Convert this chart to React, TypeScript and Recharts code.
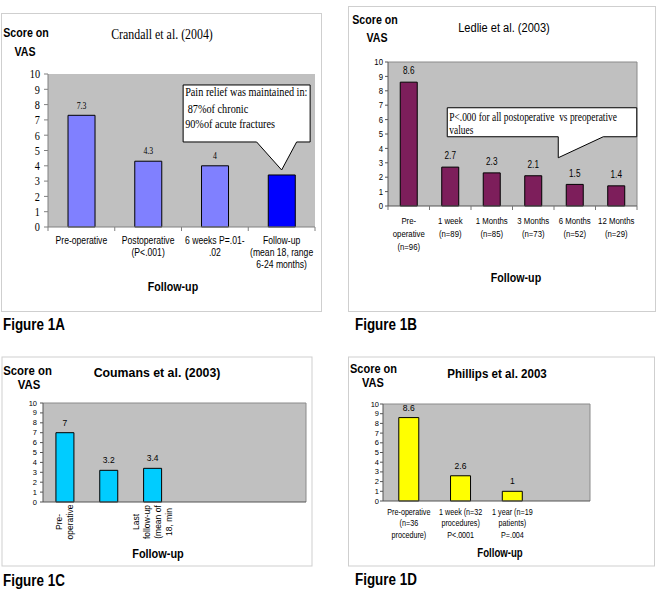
import React from 'react';
import {
  BarChart,
  Bar,
  XAxis,
  YAxis,
  CartesianGrid,
  LabelList,
  Cell,
  ReferenceDot,
  ReferenceLine,
} from 'recharts';

const SANS = '"Liberation Sans", Arial, Helvetica, sans-serif';
const SERIF = '"Liberation Serif", "Times New Roman", Times, serif';

// ---------------- data ----------------
const yTicks = [0, 1, 2, 3, 4, 5, 6, 7, 8, 9, 10];

const crandallCategories = [
  'Pre-operative',
  'Postoperative\n(P<.001)',
  '6 weeks P=.01-\n.02',
  'Follow-up\n(mean 18, range\n6-24 months)',
];
const crandallScores = [7.3, 4.3, 4, 3.4];
const crandallNote = ['Pain relief was maintained in:', ' 87%of chronic', '90%of acute fractures'];

const ledlieCategories = [
  'Pre-\noperative\n(n=96)',
  '1 week\n(n=89)',
  '1 Months\n(n=85)',
  '3 Months\n(n=73)',
  '6 Months\n(n=52)',
  '12 Months\n(n=29)',
];
const ledlieScores = [8.6, 2.7, 2.3, 2.1, 1.5, 1.4];
const ledlieNote = ['P<.000 for all postoperative  vs preoperative', 'values'];

const coumansCategories = ['Pre-\noperative', '', 'Last\nfollow-up\n(mean of\n18, min', '', '', ''];
const coumansScores: (number | null)[] = [7, 3.2, 3.4, null, null, null];

const phillipsCategories = [
  'Pre-operative\n(n=36\nprocedure)',
  '1 week (n=32\nprocedures)\nP<.0001',
  '1 year (n=19\npatients)\nP=.004',
  '',
];
const phillipsScores: (number | null)[] = [8.6, 2.6, 1, null];

// ---------------- styles ----------------
const crandallBarColors = ['#8080FF', '#8080FF', '#8080FF', '#0000FF'];
const LEDLIE_COLOR = '#7D1E5B';
const COUMANS_COLOR = '#00CCFF';
const PHILLIPS_COLOR = '#FFFF00';
const PLOT_BG = '#C0C0C0';
const BORDER = '#cfcfcf';

function buildRows(categories: string[], scores: (number | null)[]) {
  return categories.map((label, i) => ({ key: `k${i}`, label, score: scores[i] }));
}

type St = { font: string; size: number; sx: number };

function YTick(props: any) {
  const { x, y, payload, st } = props;
  return (
    <text
      transform={`translate(${x} ${y}) scale(${st.sx} 1)`}
      textAnchor="end"
      dominantBaseline="central"
      fontFamily={st.font}
      fontSize={st.size}
      fill="#000"
    >
      {payload.value}
    </text>
  );
}

function XTick(props: any) {
  const { x, y, payload, labels, st, first, lh, step, mark } = props;
  const idx = Number(String(payload.value).slice(1));
  const lines = String(labels[idx] ?? '').split('\n');
  return (
    <g>
      {lines.map((ln: string, i: number) =>
        ln ? (
          <text
            key={i}
            transform={`translate(${x} ${y + first + i * lh}) scale(${st.sx} 1)`}
            textAnchor="middle"
            dominantBaseline="central"
            fontFamily={st.font}
            fontSize={st.size}
            fill="#000"
          >
            {ln}
          </text>
        ) : null
      )}
      {mark ? <line x1={x + step / 2} x2={x + step / 2} y1={y} y2={y + 4} stroke={mark} /> : null}
      {mark && idx === 0 ? <line x1={x - step / 2} x2={x - step / 2} y1={y} y2={y + 4} stroke={mark} /> : null}
    </g>
  );
}

function RotTick(props: any) {
  const { x, y, payload, labels, st, lh, center } = props;
  const idx = Number(String(payload.value).slice(1));
  const lines = String(labels[idx] ?? '').split('\n');
  const n = lines.length;
  return (
    <g>
      {lines.map((ln: string, i: number) =>
        ln ? (
          <text
            key={i}
            transform={`translate(${x + (i - (n - 1) / 2) * lh} ${y + center}) rotate(-90)`}
            textAnchor="middle"
            dominantBaseline="central"
            fontFamily={st.font}
            fontSize={st.size}
            fill="#000"
          >
            {ln}
          </text>
        ) : null
      )}
    </g>
  );
}

function makeValueLabel(st: St, gap: number, hidden: number[] = []) {
  return (props: any) => {
    const vb = props.viewBox || props;
    const { x, y, width } = vb;
    const value = props.value;
    if (value == null || x == null) return null;
    if (hidden.includes(props.index)) return null;
    return (
      <text
        transform={`translate(${x + width / 2} ${y - gap}) scale(${st.sx} 1)`}
        textAnchor="middle"
        dominantBaseline="central"
        fontFamily={st.font}
        fontSize={st.size}
        fill="#000"
      >
        {value}
      </text>
    );
  };
}

function T(props: any) {
  const { x, y, size, bold, font = SANS, sx = 1, anchor = 'middle', children } = props;
  return (
    <text
      transform={`translate(${x} ${y}) scale(${sx} 1)`}
      textAnchor={anchor}
      dominantBaseline="central"
      fontFamily={font}
      fontSize={size}
      fontWeight={bold ? 'bold' : 'normal'}
      fill="#000"
    >
      {children}
    </text>
  );
}

// callout for Crandall, anchored on the follow-up bar top
function CalloutA(p: any) {
  const { cx, cy } = p;
  if (cx == null || cy == null) return null;
  const l = cx - 98.5, r = cx + 28.5, t = cy - 90, b = cy - 33;
  const d = `M${l},${t} H${r} V${b} H${cx + 15} L${cx},${cy - 5} L${cx - 25},${b} H${l} Z`;
  const ys = [cy - 83.3, cy - 66.7, cy - 51.7];
  return (
    <g>
      <path d={d} fill="#fff" stroke="#000" strokeWidth={1} />
      {crandallNote.map((s, i) => (
        <text
          key={i}
          transform={`translate(${l + 2} ${ys[i]}) scale(0.82 1)`}
          dominantBaseline="central"
          fontFamily={SERIF}
          fontSize={12.5}
          fill="#000"
          style={{ whiteSpace: 'pre' }}
        >
          {s}
        </text>
      ))}
    </g>
  );
}

// callout for Ledlie, anchored on the 3-month bar top
function CalloutB(p: any) {
  const { cx, cy } = p;
  if (cx == null || cy == null) return null;
  const l = cx - 86, r = cx + 103.5, t = cy - 68, b = cy - 39;
  const d = `M${l},${t} H${r} V${b} H${cx + 70} L${cx + 25},${cy - 18} L${cx + 25},${b} H${l} Z`;
  const ys = [cy - 58.5, cy - 45.5];
  return (
    <g>
      <path d={d} fill="#fff" stroke="#000" strokeWidth={1} />
      {ledlieNote.map((s, i) => (
        <text
          key={i}
          transform={`translate(${l + 2} ${ys[i]}) scale(0.82 1)`}
          dominantBaseline="central"
          fontFamily={SERIF}
          fontSize={11.5}
          fill="#000"
          style={{ whiteSpace: 'pre' }}
        >
          {s}
        </text>
      ))}
    </g>
  );
}

function Panel(props: any) {
  const { left, top, children } = props;
  return <div style={{ position: 'absolute', left, top }}>{children}</div>;
}

export default function App() {
  const rowsA = buildRows(crandallCategories, crandallScores);
  const rowsB = buildRows(ledlieCategories, ledlieScores);
  const rowsC = buildRows(coumansCategories, coumansScores);
  const rowsD = buildRows(phillipsCategories, phillipsScores);

  const A = { W: 330, H: 312, m: { top: 74, right: 15, bottom: 25, left: 8 }, yw: 40 };
  const stepA = (A.W - A.m.left - A.m.right - A.yw) / rowsA.length;
  const B = { W: 330, H: 312, m: { top: 62, right: 25, bottom: 46, left: 16 }, yw: 40 };
  const stepB = (B.W - B.m.left - B.m.right - B.yw) / rowsB.length;
  const C = { W: 330, H: 230, m: { top: 63, right: 24, bottom: 28, left: 5 }, yw: 38 };
  const D = { W: 330, H: 230, m: { top: 64, right: 72, bottom: 24, left: 13 }, yw: 38 };
  const stepD = (D.W - D.m.left - D.m.right - D.yw) / rowsD.length;

  const tickA: St = { font: SERIF, size: 12.5, sx: 0.82 };
  const catA: St = { font: SANS, size: 10.5, sx: 0.82 };
  const valA: St = { font: SERIF, size: 9.5, sx: 0.82 };
  const tickB: St = { font: SANS, size: 9.5, sx: 0.82 };
  const catB: St = { font: SANS, size: 9.5, sx: 0.82 };
  const valB: St = { font: SANS, size: 10, sx: 0.82 };
  const tickC: St = { font: SANS, size: 7.5, sx: 1 };
  const catC: St = { font: SANS, size: 8.5, sx: 1 };
  const valC: St = { font: SANS, size: 8.5, sx: 1 };
  const tickD: St = { font: SANS, size: 7.5, sx: 1 };
  const catD: St = { font: SANS, size: 9, sx: 0.8 };
  const valD: St = { font: SANS, size: 9, sx: 0.95 };

  return (
    <div
      style={{
        position: 'absolute',
        left: 0,
        top: 0,
        width: 664,
        height: 600,
        background: '#fff',
        overflow: 'hidden',
      }}
    >
      <svg width={664} height={600} style={{ position: 'absolute', left: 0, top: 0 }}>
        <rect x={1.5} y={13.5} width={320} height={298} fill="none" stroke={BORDER} />
        <rect x={348.5} y={6.5} width={307} height={305} fill="none" stroke={BORDER} />
        <rect x={2} y={357} width={310} height={209} fill="none" stroke={BORDER} />
        <rect x={348.5} y={357} width={306} height={209} fill="none" stroke={BORDER} />

        {/* Panel A texts */}
        <T x={26} y={33} size={13} bold sx={0.82}>Score on</T>
        <T x={25} y={52} size={13} bold sx={0.82}>VAS</T>
        <T x={162} y={34} size={14.5} font={SERIF} sx={0.82}>Crandall et al. (2004)</T>
        <T x={173} y={287} size={13} bold sx={0.82}>Follow-up</T>
        <T x={3} y={324} size={17} bold sx={0.79} anchor="start">Figure 1A</T>

        {/* Panel B texts */}
        <T x={375} y={20} size={13} bold sx={0.82}>Score on</T>
        <T x={377} y={38} size={13} bold sx={0.82}>VAS</T>
        <T x={504} y={28} size={13.5} sx={0.82}>Ledlie et al. (2003)</T>
        <T x={516} y={278} size={13} bold sx={0.82}>Follow-up</T>
        <T x={355} y={324} size={17} bold sx={0.79} anchor="start">Figure 1B</T>

        {/* Panel C texts */}
        <T x={27.5} y={370} size={12} bold sx={0.95}>Score on</T>
        <T x={29} y={384} size={12} bold sx={0.95}>VAS</T>
        <T x={157} y={373} size={13} bold sx={0.95}>Coumans et al. (2003)</T>
        <T x={158} y={553} size={12.5} bold sx={0.875}>Follow-up</T>
        <T x={3} y={580} size={17} bold sx={0.79} anchor="start">Figure 1C</T>

        {/* Panel D texts */}
        <T x={373.5} y={369} size={12} bold sx={0.92}>Score on</T>
        <T x={373} y={383} size={12} bold sx={0.92}>VAS</T>
        <T x={497} y={374} size={13} bold sx={0.89}>Phillips et al. 2003</T>
        <T x={500} y={553} size={12.5} bold sx={0.77}>Follow-up</T>
        <T x={355} y={579} size={17} bold sx={0.79} anchor="start">Figure 1D</T>
      </svg>

      {/* Figure 1A */}
      <Panel left={0} top={0}>
        <BarChart width={A.W} height={A.H} data={rowsA} margin={A.m} barCategoryGap="30%">
          <CartesianGrid fill={PLOT_BG} horizontal={false} vertical={false} />
          <XAxis
            dataKey="key"
            height={60}
            interval={0}
            tickSize={0}
            tickMargin={0}
            tickLine={false}
            axisLine={{ stroke: '#808080' }}
            tick={<XTick labels={crandallCategories} st={catA} first={13} lh={12} step={stepA} mark="#808080" />}
          />
          <YAxis
            domain={[0, 10]}
            ticks={yTicks}
            interval={0}
            width={A.yw}
            tickSize={4}
            tickMargin={4}
            axisLine={{ stroke: '#808080' }}
            tickLine={{ stroke: '#808080' }}
            tick={<YTick st={tickA} />}
          />
          <Bar dataKey="score" stroke="#000" strokeWidth={1} isAnimationActive={false}>
            {rowsA.map((r, i) => (
              <Cell key={r.key} fill={crandallBarColors[i]} />
            ))}
            <LabelList dataKey="score" content={makeValueLabel(valA, 10, [3])} />
          </Bar>
          <ReferenceDot
            x={rowsA[3].key}
            y={crandallScores[3]}
            r={0}
            ifOverflow="visible"
            shape={(p: any) => <CalloutA cx={p.cx} cy={p.cy} />}
          />
        </BarChart>
      </Panel>

      {/* Figure 1B */}
      <Panel left={332} top={0}>
        <BarChart width={B.W} height={B.H} data={rowsB} margin={B.m} barCategoryGap="29.5%">
          <CartesianGrid fill={PLOT_BG} horizontal={false} vertical={false} />
          <ReferenceLine y={10} stroke="#8a8a8a" />
          <ReferenceLine x={rowsB[rowsB.length - 1].key} position="end" stroke="#8a8a8a" />
          <XAxis
            dataKey="key"
            height={60}
            interval={0}
            tickSize={0}
            tickMargin={0}
            tickLine={false}
            axisLine={{ stroke: '#555' }}
            tick={<XTick labels={ledlieCategories} st={catB} first={15} lh={13} step={stepB} mark="#777" />}
          />
          <YAxis
            domain={[0, 10]}
            ticks={yTicks}
            interval={0}
            width={B.yw}
            tickSize={3}
            tickMargin={2}
            axisLine={{ stroke: '#555' }}
            tickLine={{ stroke: '#555' }}
            tick={<YTick st={tickB} />}
          />
          <Bar dataKey="score" fill={LEDLIE_COLOR} stroke="#000" strokeWidth={1} isAnimationActive={false}>
            <LabelList dataKey="score" content={makeValueLabel(valB, 11)} />
          </Bar>
          <ReferenceDot
            x={rowsB[3].key}
            y={ledlieScores[3]}
            r={0}
            ifOverflow="visible"
            shape={(p: any) => <CalloutB cx={p.cx} cy={p.cy} />}
          />
        </BarChart>
      </Panel>

      {/* Figure 1C */}
      <Panel left={0} top={340}>
        <BarChart width={C.W} height={C.H} data={rowsC} margin={C.m} barCategoryGap="29.5%">
          <CartesianGrid fill={PLOT_BG} horizontal={false} vertical={false} />
          <ReferenceLine y={10} stroke="#8a8a8a" />
          <ReferenceLine x={rowsC[rowsC.length - 1].key} position="end" stroke="#8a8a8a" />
          <XAxis
            dataKey="key"
            height={40}
            interval={0}
            tickSize={0}
            tickMargin={0}
            tickLine={false}
            axisLine={{ stroke: '#555' }}
            tick={<RotTick labels={coumansCategories} st={catC} lh={11} center={20} />}
          />
          <YAxis
            domain={[0, 10]}
            ticks={yTicks}
            interval={0}
            width={C.yw}
            tickSize={3}
            tickMargin={3}
            axisLine={{ stroke: '#555' }}
            tickLine={{ stroke: '#555' }}
            tick={<YTick st={tickC} />}
          />
          <Bar dataKey="score" fill={COUMANS_COLOR} stroke="#000" strokeWidth={1} isAnimationActive={false}>
            <LabelList dataKey="score" content={makeValueLabel(valC, 10)} />
          </Bar>
        </BarChart>
      </Panel>

      {/* Figure 1D */}
      <Panel left={332} top={340}>
        <BarChart width={D.W} height={D.H} data={rowsD} margin={D.m} barCategoryGap="30.5%">
          <CartesianGrid fill={PLOT_BG} horizontal={false} vertical={false} />
          <ReferenceLine y={10} stroke="#8a8a8a" />
          <ReferenceLine x={rowsD[rowsD.length - 1].key} position="end" stroke="#8a8a8a" />
          <XAxis
            dataKey="key"
            height={45}
            interval={0}
            tickSize={0}
            tickMargin={0}
            tickLine={false}
            axisLine={{ stroke: '#555' }}
            tick={<XTick labels={phillipsCategories} st={catD} first={11} lh={11.5} step={stepD} mark="" />}
          />
          <YAxis
            domain={[0, 10]}
            ticks={yTicks}
            interval={0}
            width={D.yw}
            tickSize={3}
            tickMargin={1}
            axisLine={{ stroke: '#555' }}
            tickLine={{ stroke: '#555' }}
            tick={<YTick st={tickD} />}
          />
          <Bar dataKey="score" fill={PHILLIPS_COLOR} stroke="#000" strokeWidth={1} isAnimationActive={false}>
            <LabelList dataKey="score" content={makeValueLabel(valD, 10)} />
          </Bar>
        </BarChart>
      </Panel>
    </div>
  );
}
